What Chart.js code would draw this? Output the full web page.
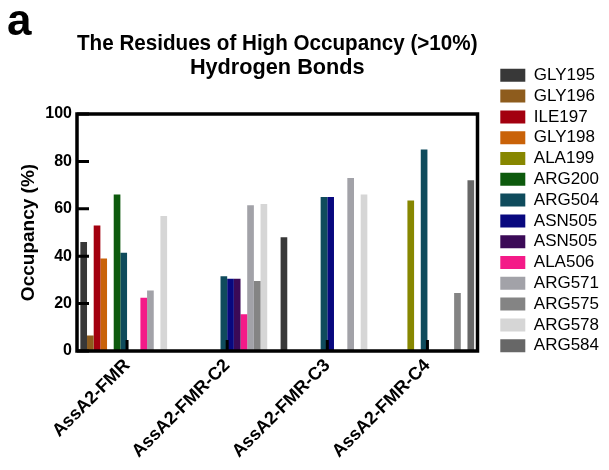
<!DOCTYPE html>
<html>
<head>
<meta charset="utf-8">
<title>Hydrogen bond occupancy</title>
<script src="https://cdn.jsdelivr.net/npm/chart.js@4.4.1/dist/chart.umd.min.js"></script>
<style>
  html, body { margin: 0; padding: 0; background: #fff; }
  #wrap { width: 609px; height: 470px; }
</style>
</head>
<body>
<div id="wrap"><canvas id="hbChart" width="609" height="470"></canvas></div>
<script>
// systems on the x axis
const categories = ['AssA2-FMR', 'AssA2-FMR-C2', 'AssA2-FMR-C3', 'AssA2-FMR-C4'];

// residue names, one bar series each
const residues = ['GLY195', 'GLY196', 'ILE197', 'GLY198', 'ALA199', 'ARG200', 'ARG504',
                  'ASN505', 'ASN505', 'ALA506', 'ARG571', 'ARG575', 'ARG578', 'ARG584'];

// occupancy (%) per system, null = no bond above the cut-off
const gly195 = [46, null, 48, null];
const gly196 = [6.5, null, null, null];
const ile197 = [53, null, null, null];
const gly198 = [39, null, null, null];
const ala199 = [null, null, null, 63.5];
const arg200 = [66, null, null, null];
const arg504 = [41.5, 31.5, 65, 85];
const asn505a = [null, 30.5, 65, null];
const asn505b = [null, 30.5, null, null];
const ala506 = [22.5, 15.5, null, null];
const arg571 = [25.5, 61.5, 73, null];
const arg575 = [null, 29.5, null, 24.5];
const arg578 = [57, 62, 66, null];
const arg584 = [null, null, null, 72];

const yTicks = [0, 20, 40, 60, 80, 100];

const series = [gly195, gly196, ile197, gly198, ala199, arg200, arg504,
                asn505a, asn505b, ala506, arg571, arg575, arg578, arg584];
const colors = ['#383838', '#8e5c1d', '#a3000f', '#c96208', '#878700', '#0d5a0d', '#0f4b5c',
                '#08087f', '#3b0a57', '#f41a88', '#a2a2a8', '#848484', '#d6d6d6', '#676767'];

const FONT = '"Liberation Sans", Arial, Helvetica, sans-serif';
Chart.defaults.font.family = FONT;
Chart.defaults.color = '#000';

// box around the plot + inward tick marks + panel letter
const framePlugin = {
    id: 'frame',
    afterDatasetsDraw(chart) {
        const { ctx, chartArea: a, scales } = chart;
        ctx.save();
        ctx.strokeStyle = '#000';
        ctx.lineWidth = 3.5;
        ctx.strokeRect(a.left, a.top, a.right - a.left, a.bottom - a.top);
        ctx.lineWidth = 3;
        ctx.beginPath();
        yTicks.forEach(v => {
            const y = scales.y.getPixelForValue(v);
            ctx.moveTo(a.left, y);
            ctx.lineTo(a.left + 12, y);
        });
        categories.forEach((c, i) => {
            const x = scales.x.getPixelForValue(i);
            ctx.moveTo(x, a.bottom);
            ctx.lineTo(x, a.bottom - 11);
        });
        ctx.stroke();

        ctx.fillStyle = '#000';
        ctx.font = 'bold 44px ' + FONT;
        ctx.textBaseline = 'alphabetic';
        ctx.textAlign = 'left';
        ctx.fillText('a', 7, 35);
        ctx.restore();
    }
};

const ctx = document.getElementById('hbChart').getContext('2d');
new Chart(ctx, {
    type: 'bar',
    data: {
        labels: categories,
        datasets: residues.map((name, i) => ({
            label: name,
            data: series[i],
            backgroundColor: colors[i],
            borderWidth: 0,
            categoryPercentage: 0.933,
            barPercentage: 1.0
        }))
    },
    options: {
        responsive: false,
        animation: false,
        layout: { padding: 0 },
        plugins: {
            title: {
                display: true,
                fullSize: false,
                text: ['The Residues of High Occupancy (>10%)', 'Hydrogen Bonds'],
                font: { size: 21.7, weight: 'bold', lineHeight: 1.106 },
                color: '#000',
                padding: { top: 32.5, bottom: 33.5 }
            },
            legend: {
                position: 'right',
                fullSize: true,
                align: 'start',
                maxWidth: 140,
                title: {
                    display: true,
                    text: '',
                    font: { size: 10, lineHeight: 1.2 },
                    padding: { top: 51, bottom: 0 }
                },
                labels: {
                    boxWidth: 25,
                    boxHeight: 13,
                    padding: 3.8,
                    font: { size: 17, lineHeight: 1 },
                    color: '#000'
                }
            },
            tooltip: { enabled: false }
        },
        scales: {
            x: {
                grid: { display: false, drawTicks: false },
                border: { display: false },
                ticks: {
                    minRotation: 45,
                    maxRotation: 45,
                    padding: 4,
                    font: { size: 18, weight: 'bold' },
                    color: '#000'
                },
                afterFit(scale) { scale.height = 119; }
            },
            y: {
                min: 0,
                max: 100,
                grid: { display: false, drawTicks: false },
                border: { display: false },
                afterBuildTicks(scale) { scale.ticks = yTicks.map(v => ({ value: v })); },
                ticks: {
                    padding: 5,
                    font: { size: 16, weight: 'bold' },
                    color: '#000'
                },
                title: {
                    display: true,
                    text: 'Occupancy (%)',
                    font: { size: 19, weight: 'bold' },
                    color: '#000',
                    padding: { top: 17, bottom: 0 }
                },
                afterFit(scale) { scale.width = 77; }
            },
            // empty strip between plot frame and legend
            gap: {
                type: 'linear',
                position: 'right',
                grid: { display: false, drawTicks: false },
                border: { display: false },
                ticks: { display: false },
                afterFit(scale) { scale.width = 19; }
            }
        }
    },
    plugins: [framePlugin]
});
</script>
</body>
</html>
